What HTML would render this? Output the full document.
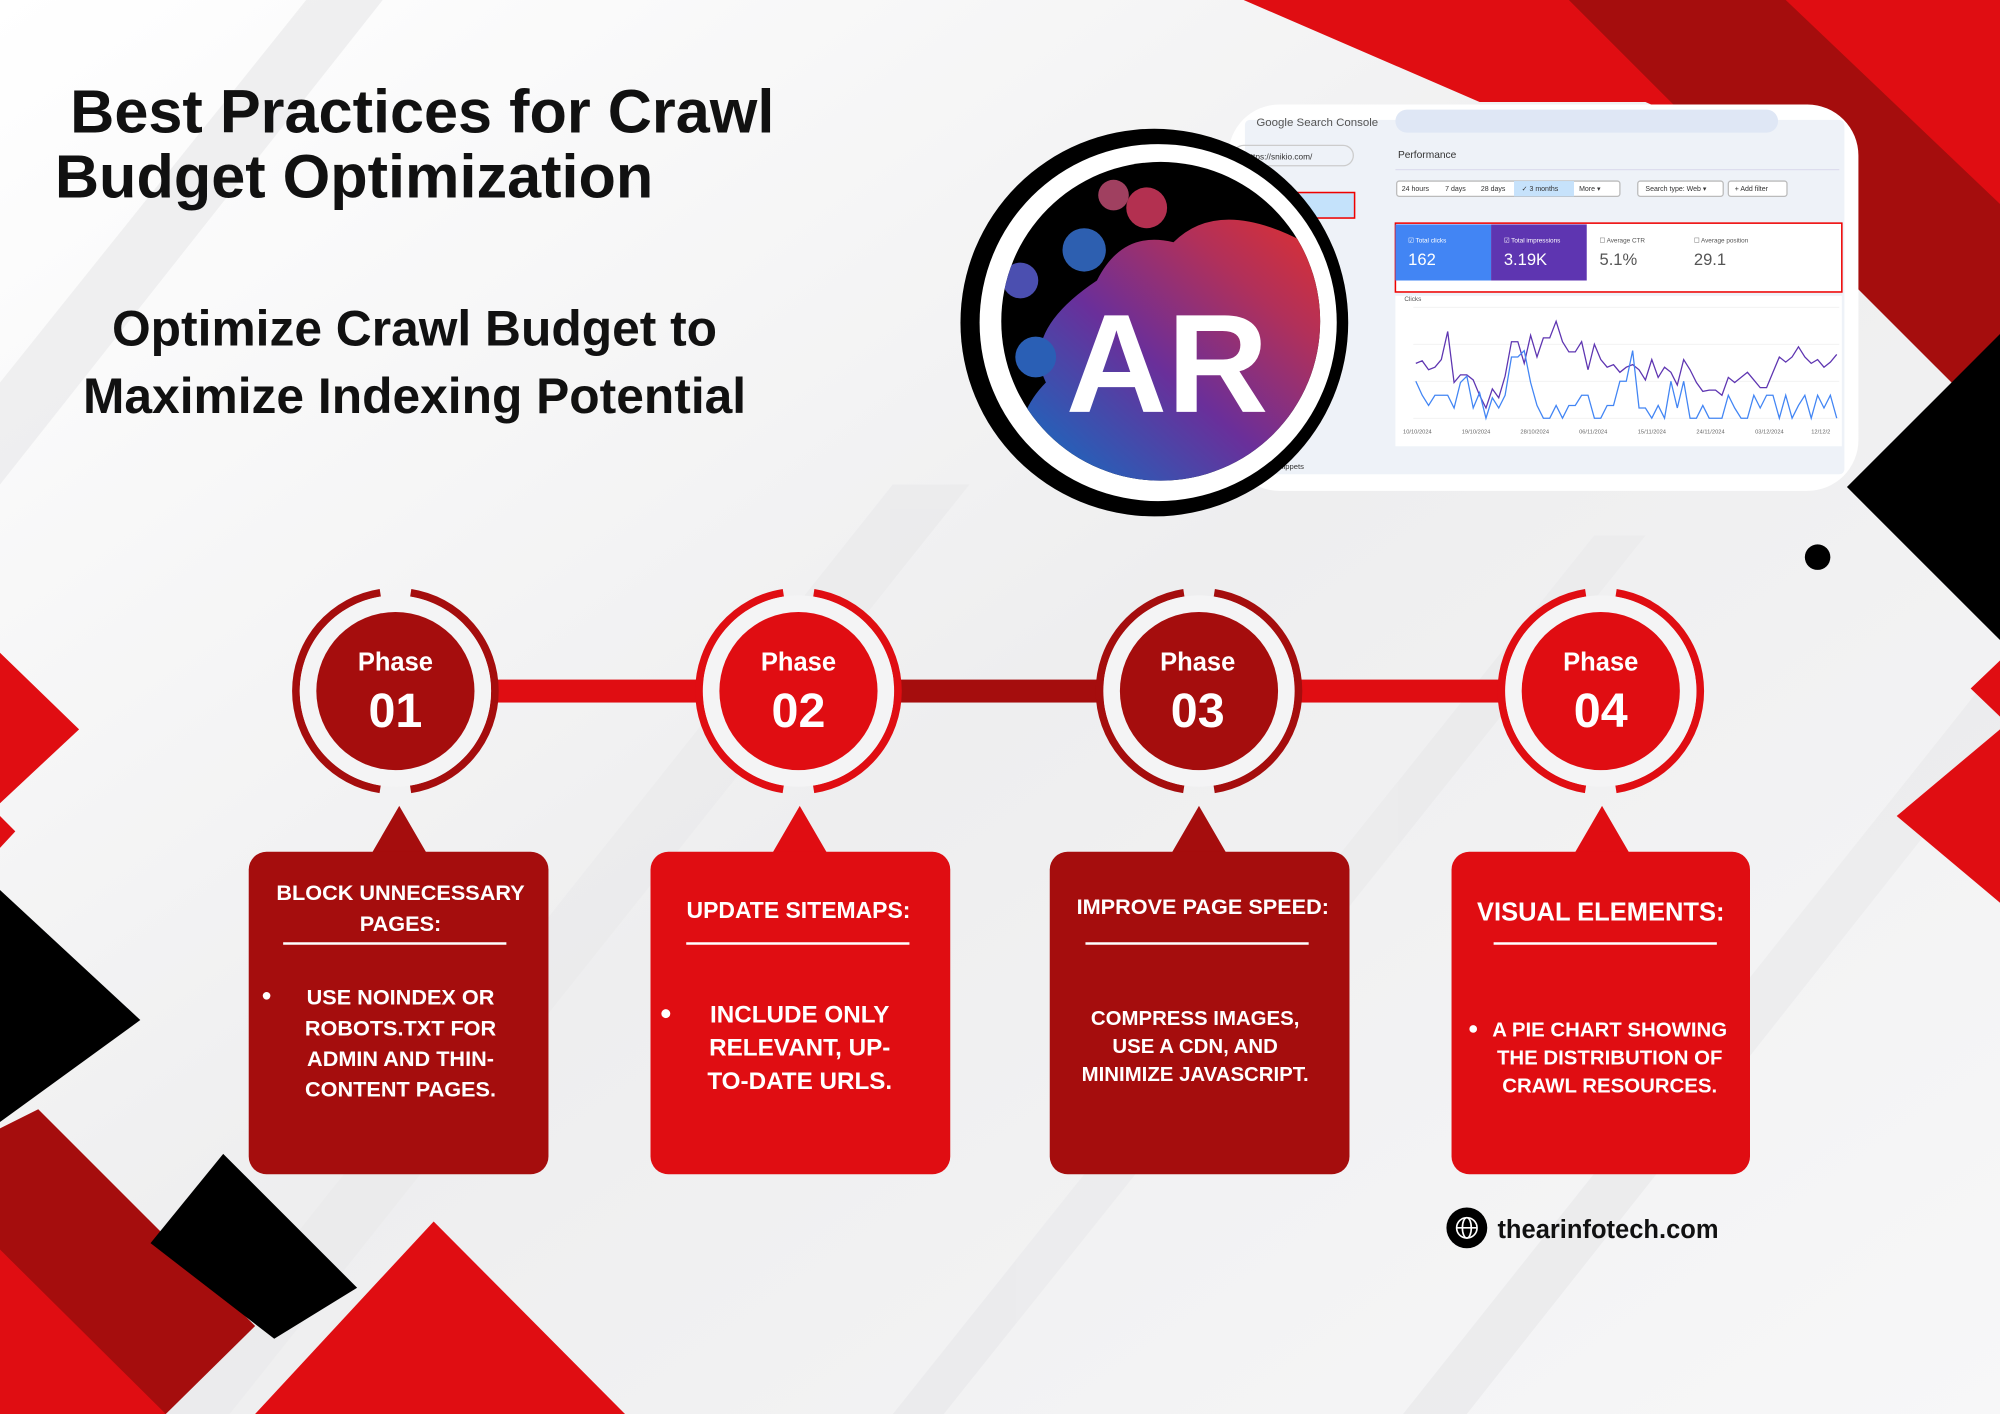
<!DOCTYPE html>
<html><head><meta charset="utf-8"><style>
html,body{margin:0;padding:0;background:#f4f4f5;}
svg{display:block;}
text{font-family:"Liberation Sans",sans-serif;}
.n{font-family:"Liberation Sans Narrow","Liberation Sans",sans-serif;font-weight:bold;fill:#fff;}
</style></head><body>
<svg width="2000" height="1414" viewBox="0 0 1568 1109" preserveAspectRatio="none" xmlns="http://www.w3.org/2000/svg">
<defs>
<linearGradient id="bg" x1="0" y1="0" x2="1" y2="1"><stop offset="0" stop-color="#ffffff"/><stop offset="0.5" stop-color="#eeeeef"/><stop offset="1" stop-color="#f7f7f8"/></linearGradient>
<linearGradient id="logo" x1="0" y1="1" x2="1" y2="0"><stop offset="0" stop-color="#0a74c4"/><stop offset="0.45" stop-color="#6a2f9a"/><stop offset="0.75" stop-color="#b1305a"/><stop offset="1" stop-color="#e0302e"/></linearGradient>
<clipPath id="lc"><circle cx="910" cy="252" r="125"/></clipPath>
</defs>
<rect width="1568" height="1109" fill="url(#bg)"/>
<g fill="#e9e9eb" opacity="0.7">
<polygon points="120,1109 700,380 760,380 180,1109"/>
<polygon points="700,1109 1250,420 1290,420 740,1109"/>
<polygon points="0,300 240,0 300,0 0,380"/>
<polygon points="1100,1109 1568,520 1568,580 1150,1109"/>
</g>
<polygon points="975,0 1568,0 1568,200 1290,80 1160,80" fill="#e00d12"/>
<polygon points="1230,0 1400,0 1568,160 1568,300 1530,300" fill="#a50d0d"/>
<polygon points="1448,382 1568,262 1568,502" fill="#000"/>
<polygon points="1545,540 1568,518 1568,562" fill="#e00d12"/>
<polygon points="1487,640 1568,572 1568,708" fill="#e00d12"/>
<circle cx="1425" cy="437" r="10" fill="#000"/>
<polygon points="0,512 62,572 0,630" fill="#e00d12"/>
<polygon points="0,640 12,652 0,665" fill="#e00d12"/>
<polygon points="0,698 110,800 0,880" fill="#000"/>
<polygon points="0,885 30,870 200,1040 130,1109 0,1109" fill="#a50d0d"/>
<polygon points="0,980 130,1109 0,1109" fill="#e00d12"/>
<polygon points="118,975 175,905 280,1010 215,1050" fill="#000"/>
<polygon points="200,1109 340,958 490,1109" fill="#e00d12"/>
<text x="55" y="104" font-size="48" font-weight="bold" fill="#111">Best Practices for Crawl</text>
<text x="43" y="155" font-size="48" font-weight="bold" fill="#111">Budget Optimization</text>
<text x="325" y="271" font-size="39" font-weight="bold" fill="#111" text-anchor="middle">Optimize Crawl Budget to</text>
<text x="325" y="324" font-size="39" font-weight="bold" fill="#111" text-anchor="middle">Maximize Indexing Potential</text>
<rect x="963" y="82" width="494" height="303" rx="40" fill="#fff"/>
<rect x="976" y="94" width="470" height="278" rx="4" fill="#eef2f8"/>
<rect x="1094" y="86" width="300" height="18" rx="9" fill="#dfe7f5"/>
<text x="985" y="99" font-size="9" fill="#555">Google Search Console</text>
<rect x="967" y="114" width="94" height="16" rx="8" fill="none" stroke="#ccc"/>
<text x="977" y="125" font-size="6.5" fill="#333">https://snikio.com/</text>
<rect x="970" y="151" width="92" height="20" fill="#c4e2fb" stroke="#e00" stroke-width="1.2"/>
<text x="977" y="165" font-size="6" fill="#333">Performance</text>
<text x="977" y="182" font-size="6" fill="#333">URL inspection</text>
<text x="1000" y="368" font-size="6" fill="#333">snippets</text>
<text x="1096" y="124" font-size="8" fill="#333">Performance</text>
<line x1="1094" y1="133" x2="1442" y2="133" stroke="#dde"/>
<g font-size="5.5" fill="#333">
<rect x="1095" y="142" width="175" height="12" rx="2" fill="#fff" stroke="#bbb"/>
<rect x="1187" y="142" width="47" height="12" fill="#c6e2fb"/>
<text x="1099" y="150">24 hours</text><text x="1133" y="150">7 days</text><text x="1161" y="150">28 days</text><text x="1193" y="150">✓ 3 months</text><text x="1238" y="150">More ▾</text>
<rect x="1284" y="142" width="67" height="12" rx="2" fill="#fff" stroke="#bbb"/><text x="1290" y="150">Search type: Web ▾</text>
<rect x="1355" y="142" width="46" height="12" rx="2" fill="#fff" stroke="#bbb"/><text x="1360" y="150">+ Add filter</text>
</g>
<rect x="1094" y="175" width="350" height="54" fill="#fff" stroke="#e00" stroke-width="1.2"/>
<rect x="1094" y="176" width="75" height="44" fill="#4285f4"/>
<rect x="1169" y="176" width="75" height="44" fill="#5e35b1"/>
<g fill="#fff"><text x="1104" y="190" font-size="5">☑ Total clicks</text><text x="1104" y="208" font-size="13">162</text>
<text x="1179" y="190" font-size="5">☑ Total impressions</text><text x="1179" y="208" font-size="13">3.19K</text></g>
<g fill="#555"><text x="1254" y="190" font-size="5">☐ Average CTR</text><text x="1254" y="208" font-size="13">5.1%</text>
<text x="1328" y="190" font-size="5">☐ Average position</text><text x="1328" y="208" font-size="13">29.1</text></g>
<rect x="1094" y="232" width="350" height="118" fill="#fff"/>
<text x="1101" y="236" font-size="5" fill="#555">Clicks</text>
<g stroke="#eee" stroke-width="0.6"><line x1="1108" y1="241" x2="1442" y2="241"/><line x1="1108" y1="270" x2="1442" y2="270"/><line x1="1108" y1="299" x2="1442" y2="299"/><line x1="1108" y1="328" x2="1442" y2="328"/></g>
<polyline fill="none" stroke="#5e35b1" stroke-width="1" points="1110,285 1115,283 1120,290 1125,288 1130,282 1135,260 1140,300 1145,294 1150,294 1155,298 1160,310 1165,320 1170,305 1175,312 1180,295 1185,268 1190,268 1195,285 1200,263 1205,280 1210,265 1215,265 1220,252 1225,268 1230,276 1235,276 1240,268 1245,290 1250,270 1255,282 1260,288 1265,286 1270,292 1275,288 1280,286 1285,290 1290,298 1295,282 1300,296 1305,288 1310,292 1315,302 1320,282 1325,290 1330,300 1335,307 1340,306 1345,306 1350,310 1355,296 1360,300 1365,296 1370,292 1375,298 1380,304 1385,304 1390,292 1395,280 1400,284 1405,280 1410,272 1415,280 1420,285 1425,282 1430,288 1435,284 1440,278"/>
<polyline fill="none" stroke="#4285f4" stroke-width="1" points="1110,299 1115,310 1120,318 1125,310 1130,310 1135,310 1140,320 1145,300 1150,295 1155,320 1160,308 1165,328 1170,312 1175,320 1180,310 1185,280 1190,280 1195,275 1200,300 1205,318 1210,328 1215,328 1220,318 1225,328 1230,318 1235,318 1240,310 1245,310 1250,328 1255,328 1260,318 1265,318 1270,299 1275,299 1280,275 1285,320 1290,320 1295,328 1300,318 1305,328 1310,299 1315,320 1320,299 1325,328 1330,328 1335,318 1340,328 1345,328 1350,328 1355,310 1360,320 1365,328 1370,328 1375,310 1380,320 1385,310 1390,310 1395,328 1400,310 1405,328 1410,318 1415,310 1420,328 1425,310 1430,320 1435,310 1440,328"/>
<g font-size="4.5" fill="#666"><text x="1100" y="340">10/10/2024</text><text x="1146" y="340">19/10/2024</text><text x="1192" y="340">28/10/2024</text><text x="1238" y="340">06/11/2024</text><text x="1284" y="340">15/11/2024</text><text x="1330" y="340">24/11/2024</text><text x="1376" y="340">03/12/2024</text><text x="1420" y="340">12/12/2</text></g>
<circle cx="905" cy="253" r="152" fill="#000"/>
<circle cx="908" cy="253" r="140" fill="#fff"/>
<circle cx="910" cy="252" r="125" fill="#000"/>
<g clip-path="url(#lc)">
<path d="M860,220 Q880,180 920,190 Q960,150 1040,200 L1040,380 L800,380 Q790,330 820,300 Q800,260 860,220 Z" fill="url(#logo)"/>
<circle cx="850" cy="196" r="17" fill="#2d5fb0"/><circle cx="899" cy="163" r="16" fill="#b33050"/>
<circle cx="812" cy="280" r="16" fill="#2a5fb5"/><circle cx="800" cy="220" r="14" fill="#4b4fb0"/>
<circle cx="873" cy="153" r="12" fill="#a04060"/>
</g>
<text x="915" y="323" font-size="110" font-weight="bold" font-family="Liberation Serif,serif" fill="#fff" text-anchor="middle">AR</text>
<rect x="390" y="533" width="240" height="18" fill="#e00d12"/>
<rect x="630" y="533" width="310" height="18" fill="#a50d0d"/>
<rect x="940" y="533" width="315" height="18" fill="#e00d12"/>
<g fill="none" stroke-width="6" stroke-dasharray="110.5 24 221 24 110.5">
<circle cx="310" cy="542" r="78" stroke="#a50d0d"/>
<circle cx="626" cy="542" r="78" stroke="#e00d12"/>
<circle cx="940" cy="542" r="78" stroke="#a50d0d"/>
<circle cx="1255" cy="542" r="78" stroke="#e00d12"/>
</g>
<g fill="#f4f4f5"><circle cx="310" cy="542" r="75"/><circle cx="626" cy="542" r="75"/><circle cx="940" cy="542" r="75"/><circle cx="1255" cy="542" r="75"/></g>
<circle cx="310" cy="542" r="62" fill="#a50d0d"/>
<circle cx="626" cy="542" r="62" fill="#e00d12"/>
<circle cx="940" cy="542" r="62" fill="#a50d0d"/>
<circle cx="1255" cy="542" r="62" fill="#e00d12"/>
<g fill="#fff" font-weight="bold" text-anchor="middle">
<text x="310" y="526" font-size="20">Phase</text><text x="310" y="570" font-size="38">01</text>
<text x="626" y="526" font-size="20">Phase</text><text x="626" y="570" font-size="38">02</text>
<text x="939" y="526" font-size="20">Phase</text><text x="939" y="570" font-size="38">03</text>
<text x="1255" y="526" font-size="20">Phase</text><text x="1255" y="570" font-size="38">04</text>
</g>
<polygon points="313,632 291,670 335,670" fill="#a50d0d"/>
<rect x="195" y="668" width="235" height="253" rx="14" fill="#a50d0d"/>
<polygon points="627,632 605,670 649,670" fill="#e00d12"/>
<rect x="510" y="668" width="235" height="253" rx="14" fill="#e00d12"/>
<polygon points="940,632 918,670 962,670" fill="#a50d0d"/>
<rect x="823" y="668" width="235" height="253" rx="14" fill="#a50d0d"/>
<polygon points="1256,632 1234,670 1278,670" fill="#e00d12"/>
<rect x="1138" y="668" width="234" height="253" rx="14" fill="#e00d12"/>
<g stroke="#fff" stroke-width="2"><line x1="222" y1="740" x2="397" y2="740"/><line x1="538" y1="740" x2="713" y2="740"/><line x1="851" y1="740" x2="1026" y2="740"/><line x1="1171" y1="740" x2="1346" y2="740"/></g>
<g class="n" text-anchor="middle">
<text x="314" y="706" font-size="17">BLOCK UNNECESSARY</text><text x="314" y="730" font-size="17">PAGES:</text>
<text x="314" y="788" font-size="17">USE NOINDEX OR</text><text x="314" y="812" font-size="17">ROBOTS.TXT FOR</text><text x="314" y="836" font-size="17">ADMIN AND THIN-</text><text x="314" y="860" font-size="17">CONTENT PAGES.</text>
<text x="626" y="720" font-size="18">UPDATE SITEMAPS:</text>
<text x="627" y="802" font-size="19">INCLUDE ONLY</text><text x="627" y="828" font-size="19">RELEVANT, UP-</text><text x="627" y="854" font-size="19">TO-DATE URLS.</text>
<text x="943" y="717" font-size="17">IMPROVE PAGE SPEED:</text>
<text x="937" y="804" font-size="16">COMPRESS IMAGES,</text><text x="937" y="826" font-size="16">USE A CDN, AND</text><text x="937" y="848" font-size="16">MINIMIZE JAVASCRIPT.</text>
<text x="1255" y="722" font-size="20">VISUAL ELEMENTS:</text>
<text x="1262" y="813" font-size="16">A PIE CHART SHOWING</text><text x="1262" y="835" font-size="16">THE DISTRIBUTION OF</text><text x="1262" y="857" font-size="16">CRAWL RESOURCES.</text>
</g>
<g fill="#fff"><circle cx="209" cy="781" r="3"/><circle cx="522" cy="795" r="3.5"/><circle cx="1155" cy="807" r="3"/></g>
<circle cx="1150" cy="963" r="16" fill="#000"/>
<g fill="none" stroke="#fff" stroke-width="1.3"><circle cx="1150" cy="963" r="8"/><ellipse cx="1150" cy="963" rx="3.5" ry="8"/><line x1="1142" y1="963" x2="1158" y2="963"/></g>
<text x="1174" y="971" font-size="20" font-weight="bold" fill="#111">thearinfotech.com</text>
</svg>
</body></html>
